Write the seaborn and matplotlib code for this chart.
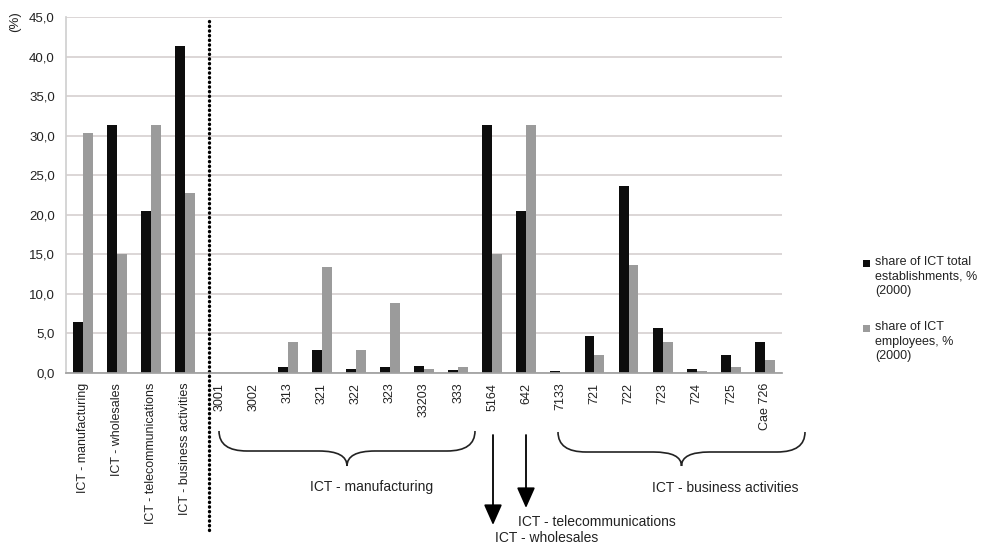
# ICT SHARES BY SECTOR - BAR CHART

# ========== 1. IMPORT LIBRARIES ==========
import matplotlib
matplotlib.use("Agg")
import matplotlib.pyplot as plt
from matplotlib.path import Path
from matplotlib.patches import PathPatch, Rectangle
import numpy as np
import pandas as pd
import seaborn as sns

# ========== 2. DATA ==========
categories = [
    "ICT - manufacturing", "ICT - wholesales", "ICT - telecommunications",
    "ICT - business activities",
    "3001", "3002", "313", "321", "322", "323", "33203", "333",
    "5164", "642",
    "7133", "721", "722", "723", "724", "725", "Cae 726",
]
establishments = [6.5, 31.4, 20.5, 41.3,
                  0.0, 0.0, 0.8, 2.9, 0.5, 0.7, 0.9, 0.4,
                  31.4, 20.5,
                  0.3, 4.7, 23.7, 5.7, 0.5, 2.3, 3.9]
employees = [30.4, 15.0, 31.4, 22.7,
             0.0, 0.0, 3.9, 13.4, 2.9, 8.8, 0.5, 0.8,
             15.0, 31.4,
             0.0, 2.3, 13.7, 3.9, 0.3, 0.7, 1.6]
series_names = ["share of ICT total\nestablishments, %\n(2000)",
                "share of ICT\nemployees, %\n(2000)"]
y_ticks = np.arange(0, 50, 5)

df = pd.DataFrame({
    "category": categories * 2,
    "value": establishments + employees,
    "series": [series_names[0]] * len(categories) + [series_names[1]] * len(categories),
})

colors = ["#0d0d0d", "#9b9b9b"]
text_col = "#222222"

# ========== 3. STYLE ==========
sns.set_theme(style="white")
plt.rcParams["font.family"] = ["Liberation Sans", "DejaVu Sans"]

W, H = 987, 548
fig = plt.figure(figsize=(W / 100, H / 100), dpi=100)
ax = fig.add_axes([66 / W, 1 - 373 / H, (782 - 66) / W, 356 / H])

# ========== 4. BARS ==========
sns.barplot(data=df, x="category", y="value", hue="series",
            palette=colors, saturation=1,
            width=0.58, gap=0, linewidth=0, legend=False, ax=ax)

ax.set_xlim(-0.5, len(categories) - 0.5)
ax.set_ylim(0, 45)
ax.set_yticks(y_ticks)
ax.set_yticklabels([f"{v:.1f}".replace(".", ",") for v in y_ticks])
ax.yaxis.grid(True, color="#d6cfcf", lw=1.2)
ax.set_axisbelow(True)
ax.tick_params(axis="y", length=0, pad=8, labelsize=9.5, colors=text_col)
ax.tick_params(axis="x", length=0, pad=7, labelsize=9, rotation=90, colors=text_col)
for s in ["top", "right"]:
    ax.spines[s].set_visible(False)
ax.spines["left"].set_color("#d0d0d0")
ax.spines["bottom"].set_color("#a0a0a0")
ax.set_xlabel("")
ax.set_ylabel("(%)", fontsize=9.5, color=text_col)
ax.yaxis.set_label_coords(-0.062, 0.988)

# ========== 5. DIVIDER ==========
ax.plot([3.7, 3.7], [-0.44, 1.0], transform=ax.get_xaxis_transform(),
        color="black", lw=2.4, linestyle=(0, (0.1, 1.3)),
        dash_capstyle="round", clip_on=False)

# ========== 6. OVERLAY (legend, braces, arrows) ==========
ov = fig.add_axes([0, 0, 1, 1])
ov.set_xlim(0, W)
ov.set_ylim(H, 0)
ov.axis("off")
ov.patch.set_visible(False)

# legend with the square next to the first line
for i, (name, col) in enumerate(zip(series_names, colors)):
    top = 256 + i * 65
    ov.add_patch(Rectangle((863, top + 4), 7, 7, color=col, lw=0))
    ov.text(875, top, name, ha="left", va="top", fontsize=9,
            linespacing=1.28, color=text_col)


def brace(x0, x1, ytop, ymid, ybot, r=28):
    xc = (x0 + x1) / 2
    verts = [(x0, ytop), (x0, ymid), (x0 + r, ymid), (xc - r, ymid),
             (xc, ymid), (xc, ybot),
             (xc, ybot), (xc, ymid), (xc + r, ymid), (x1 - r, ymid), (x1, ymid), (x1, ytop)]
    codes = [Path.MOVETO, Path.CURVE3, Path.CURVE3, Path.LINETO,
             Path.CURVE3, Path.CURVE3,
             Path.MOVETO, Path.CURVE3, Path.CURVE3, Path.LINETO, Path.CURVE3, Path.CURVE3]
    ov.add_patch(PathPatch(Path(verts, codes), fill=False, lw=1.2, ec=text_col))


brace(219, 475, 431, 451, 466)
brace(558, 805, 432, 452, 466)

ov.text(372, 487, "ICT - manufacturing", ha="center", va="center", fontsize=10, color=text_col)
ov.text(725, 488, "ICT - business activities", ha="center", va="center", fontsize=10, color=text_col)

arrow = dict(arrowstyle="-|>,head_length=0.9,head_width=0.4", color="black",
             lw=1.3, shrinkA=0, shrinkB=0, mutation_scale=14)
ov.annotate("", xy=(493, 525), xytext=(493, 435), arrowprops=arrow)
ov.annotate("", xy=(526, 508), xytext=(526, 435), arrowprops=arrow)
ov.text(597, 522, "ICT - telecommunications", ha="center", va="center", fontsize=10, color=text_col)
ov.text(547, 538, "ICT - wholesales", ha="center", va="center", fontsize=10, color=text_col)

# ========== 7. SAVE ==========
fig.savefig("out.png", dpi=100)
print("saved out.png")
